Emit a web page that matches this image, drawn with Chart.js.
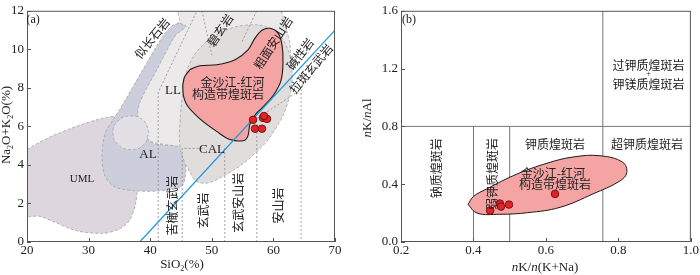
<!DOCTYPE html>
<html>
<head>
<meta charset="utf-8">
<script src="https://cdn.jsdelivr.net/npm/chart.js@4.4.1/dist/chart.umd.min.js"></script>
<style>
  html, body { margin: 0; padding: 0; background: #fff; }
  #wrap { position: relative; width: 700px; height: 275px; }
  canvas { position: absolute; top: 0; }
  #chartA { left: 0; }
  #chartB { left: 350px; }
</style>
</head>
<body>
<div id="wrap">
  <canvas id="chartA" width="350" height="275"></canvas>
  <canvas id="chartB" width="350" height="275"></canvas>
</div>
<script>
var serif = "'Liberation Serif', 'Times New Roman', serif";
var cjk = "'Noto Sans CJK SC', sans-serif";

// ---- (a) TAS diagram ----
var siTicks = [20, 30, 40, 50, 60, 70];
var alkTicks = [0, 2, 4, 6, 8, 10, 12];

var sampleSiO2 = [56.69, 58.31, 58.96, 57.01, 58.15, 58.47];
var sampleAlk = [6.34, 6.44, 6.39, 5.88, 5.88, 6.54];

var umlField = [[20, 4.81], [22.92, 5.32], [25.84, 5.73], [30.23, 6.24], [33.96, 6.52], [38.34, 6.60],
  [39.97, 6.10], [39.3, 5.5], [38.2, 4.96], [37.86, 3.68], [37.86, 2.56], [37.21, 1.53], [35.91, 0.87],
  [33.47, 0.51], [31.04, 0.46], [27.79, 0.61], [24.55, 1.02], [22.11, 1.33], [20, 1.43]];
var llField = [[44.19, 12.3], [61.07, 12.3], [62.69, 10.33], [63.02, 8.28], [60.26, 5.83], [54.58, 4.86],
  [45.32, 4.86], [39.97, 5.21], [36.5, 6.6], [37.3, 7.26], [40.0, 8.95], [43.05, 10.69], [44.8, 11.5]];
var llRound = [[39.8, 5.67], [38.95, 6.29], [36.88, 6.54], [34.81, 6.29], [33.96, 5.67], [34.81, 5.05],
  [36.88, 4.80], [38.95, 5.05]];
var alField = [[44.84, 11.35], [45.81, 11.20], [44.03, 10.69], [41.10, 8.95], [38.34, 7.26], [38.02, 6.49],
  [39.97, 5.21], [45.32, 4.86], [45.81, 3.94], [45.16, 2.91], [41.59, 2.66], [37.53, 2.66], [34.29, 2.86],
  [32.66, 3.43], [32.18, 4.45], [32.66, 5.62], [33.96, 6.34], [35.10, 6.90], [38.83, 8.95], [42.08, 10.69],
  [43.70, 11.25]];
var calField = [[45.65, 4.04], [48.08, 3.07], [52.47, 3.53], [57.34, 4.70], [60.26, 5.83], [62.37, 7.26],
  [63.02, 8.79], [61.88, 10.33], [59.45, 11.09], [55.39, 11.25], [51.33, 10.84], [48.08, 10.07],
  [46.14, 9.05], [45.32, 7.77], [44.84, 6.24], [44.84, 4.96]];
var lampFieldA = [[46.46, 8.95], [48.08, 9.15], [50.84, 9.20], [53.77, 9.46], [55.88, 9.97], [57.01, 10.58],
  [58.15, 10.99], [59.45, 11.09], [60.75, 10.84], [61.40, 10.22], [61.56, 9.30], [61.23, 8.38],
  [60.10, 7.67], [58.47, 7.06], [57.17, 6.65], [56.20, 6.13], [55.88, 5.52], [55.23, 5.27], [52.95, 5.32],
  [50.84, 5.73], [48.08, 6.39], [45.97, 7.11], [45.32, 7.77], [45.49, 8.50]];
var alkalineLine = [[38.3, 0], [70, 11.0]];
var dividers = [
  [[41.3, 0], [41.3, 7.77], [47.6, 12]],
  [[45.2, 0], [45.2, 4.86], [48.9, 4.86]],
  [[52.1, 0], [52.1, 5.0]],
  [[57.3, 0], [57.3, 6.4], [64.5, 7.92], [64.5, 0]],
  [[48.4, 12], [50.0, 9.7]],
  [[57.3, 12], [54.9, 10.4]]
];

// ---- (b) nK/nAl vs nK/n(K+Na) ----
var kNaTicks = [0.2, 0.4, 0.6, 0.8, 1.0];
var kAlTicks = [0, 0.4, 0.8, 1.2, 1.6];
var sampleKNa = [0.446, 0.473, 0.476, 0.498, 0.625];
var sampleKAl = [0.218, 0.266, 0.245, 0.259, 0.333];
var lampFieldB = [[0.385, 0.26], [0.400, 0.315], [0.437, 0.368], [0.520, 0.470], [0.603, 0.545],
  [0.674, 0.588], [0.749, 0.597], [0.812, 0.552], [0.823, 0.480], [0.804, 0.422], [0.730, 0.333],
  [0.639, 0.240], [0.550, 0.203], [0.473, 0.192], [0.410, 0.200]];
var boundsB = [
  [[0.4, 0], [0.4, 0.8]],
  [[0.5, 0], [0.5, 0.8]],
  [[0.757, 0], [0.757, 1.6]],
  [[0.2, 0.8], [1.0, 0.8]]
];

function toXY(pts) { return pts.map(function (p) { return { x: p[0], y: p[1] }; }); }

function field(pts, fill, order, extra) {
  return Object.assign({
    data: toXY(pts.concat([pts[0]])),
    backgroundColor: fill, fill: 'shape',
    borderColor: '#a3a3a3', borderWidth: 0.8, borderDash: [3, 2],
    pointRadius: 0, tension: 0.3, order: order
  }, extra || {});
}

function guide(pts, color, width, dash, order) {
  return {
    data: toXY(pts), borderColor: color, borderWidth: width, borderDash: dash,
    fill: false, pointRadius: 0, tension: 0, order: order
  };
}

function dots(xs, ys) {
  return {
    data: xs.map(function (v, i) { return { x: v, y: ys[i] }; }),
    showLine: false, pointRadius: 3.8, pointBackgroundColor: '#e32323',
    pointBorderColor: '#6a0e0e', pointBorderWidth: 0.9, order: 0
  };
}

function fontFor(s, size) {
  return (s.it ? 'italic ' : '') + (s.sub ? Math.round(size * 0.65) : size) + 'px ' + serif;
}

function drawRich(ctx, segs, size, cx, cy, rot) {
  ctx.save();
  ctx.translate(cx, cy);
  ctx.rotate(rot * Math.PI / 180);
  ctx.textBaseline = 'middle';
  ctx.textAlign = 'left';
  ctx.fillStyle = '#222';
  var widths = segs.map(function (s) { ctx.font = fontFor(s, size); return ctx.measureText(s.t).width; });
  var x = -widths.reduce(function (a, b) { return a + b; }, 0) / 2;
  segs.forEach(function (s, i) {
    ctx.font = fontFor(s, size);
    ctx.fillText(s.t, x, s.sub ? size * 0.3 : 0);
    x += widths[i];
  });
  ctx.restore();
}

function overlay(labels, titles) {
  return {
    id: 'overlay',
    afterDatasetsDraw: function (chart) {
      var ctx = chart.ctx, a = chart.chartArea, xs = chart.scales.x, ys = chart.scales.y;
      ctx.save();
      ctx.strokeStyle = '#555';
      ctx.lineWidth = 1;
      ctx.strokeRect(a.left + 0.5, a.top + 0.5, a.right - a.left - 1, a.bottom - a.top - 1);
      ctx.beginPath();
      xs.ticks.forEach(function (t) {
        var p = Math.round(xs.getPixelForValue(t.value)) + 0.5;
        ctx.moveTo(p, a.bottom); ctx.lineTo(p, a.bottom - 4);
      });
      ys.ticks.forEach(function (t) {
        var p = Math.round(ys.getPixelForValue(t.value)) + 0.5;
        ctx.moveTo(a.left, p); ctx.lineTo(a.left + 4, p);
      });
      ctx.stroke();
      labels.forEach(function (l) {
        ctx.save();
        ctx.translate(xs.getPixelForValue(l.x), ys.getPixelForValue(l.y));
        ctx.rotate((l.rot || 0) * Math.PI / 180);
        ctx.font = l.font || ('12px ' + cjk);
        ctx.fillStyle = '#222';
        ctx.textAlign = 'center';
        ctx.textBaseline = 'middle';
        ctx.fillText(l.t, 0, 0);
        ctx.restore();
      });
      ctx.restore();
    },
    afterDraw: function (chart) {
      titles.forEach(function (t) { drawRich(chart.ctx, t.segs, 13, t.x, t.y, t.rot || 0); });
    }
  };
}

function axes(xMin, xMax, xTicks, yMin, yMax, yTicks, yWidth, fmt) {
  var tickFont = { family: serif, size: 13 };
  return {
    x: {
      type: 'linear', min: xMin, max: xMax,
      grid: { display: false, drawTicks: false }, border: { display: false },
      afterBuildTicks: function (s) { s.ticks = xTicks.map(function (v) { return { value: v }; }); },
      afterFit: function (s) { s.height = 33; },
      ticks: { font: tickFont, color: '#222', padding: 1, maxRotation: 0, autoSkip: false, callback: fmt }
    },
    y: {
      min: yMin, max: yMax,
      grid: { display: false, drawTicks: false }, border: { display: false },
      afterBuildTicks: function (s) { s.ticks = yTicks.map(function (v) { return { value: v }; }); },
      afterFit: function (s) { s.width = yWidth; },
      ticks: { font: tickFont, color: '#222', padding: 3, autoSkip: false, callback: fmt }
    }
  };
}

var labelsA = [
  { t: '(a)', x: 21.0, y: 11.55, font: '12px ' + serif },
  { t: '似长石岩', x: 40.29, y: 10.58, rot: -51 },
  { t: '碧玄岩', x: 51.33, y: 10.99, rot: -56 },
  { t: '粗面安山岩', x: 59.94, y: 10.33, rot: -57 },
  { t: '碱性岩', x: 64.32, y: 9.76, rot: -53 },
  { t: '拉斑玄武岩', x: 66.10, y: 9.0, rot: -50 },
  { t: '金沙江-红河', x: 53.36, y: 8.26 },
  { t: '构造带煌斑岩', x: 52.63, y: 7.67 },
  { t: 'LL', x: 43.70, y: 7.87, font: '13px ' + serif },
  { t: 'AL', x: 39.64, y: 4.55, font: '13px ' + serif },
  { t: 'CAL', x: 50.03, y: 4.81, font: '13px ' + serif },
  { t: 'UML', x: 28.93, y: 3.27, font: '11px ' + serif },
  { t: '苦橄玄武岩', x: 43.54, y: 1.89, rot: -90 },
  { t: '玄武岩', x: 48.57, y: 1.64, rot: -90 },
  { t: '玄武安山岩', x: 54.25, y: 2.04, rot: -90 },
  { t: '安山岩', x: 60.75, y: 1.89, rot: -90 }
];
var titlesA = [
  { segs: [{ t: 'SiO' }, { t: '2', sub: true }, { t: '(%)' }], x: 182, y: 265 },
  { segs: [{ t: 'Na' }, { t: '2', sub: true }, { t: 'O+K' }, { t: '2', sub: true }, { t: 'O(%)' }], x: 7, y: 125, rot: -90 }
];

new Chart(document.getElementById('chartA').getContext('2d'), {
  type: 'line',
  data: {
    datasets: [
      field(umlField, '#ddd6de', 10, { tension: 0.4 }),
      field(llField, '#ebe9ea', 9, { tension: 0 }),
      field(alField, '#cccedb', 8),
      field(llRound, '#e2dfe5', 7, { tension: 0.5 }),
      field(calField, '#e1dddc', 6, { tension: 0.4 })
    ].concat(dividers.map(function (d) { return guide(d, '#8a8a8a', 0.8, [2, 2], 5); })).concat([
      field(lampFieldA, '#f5a4a4', 4, { borderColor: '#1a1a1a', borderWidth: 1.1, borderDash: [], tension: 0.35 }),
      guide(alkalineLine, '#1b9ad8', 1.3, [], 3),
      dots(sampleSiO2, sampleAlk)
    ])
  },
  options: {
    responsive: false, animation: false, devicePixelRatio: 1,
    layout: { padding: { left: 0, right: 15, top: 7, bottom: 0 }, autoPadding: false },
    plugins: { legend: { display: false }, tooltip: { enabled: false } },
    scales: axes(20, 70, siTicks, 0, 12, alkTicks, 27, function (v) { return v; })
  },
  plugins: [overlay(labelsA, titlesA)]
});

var labelsB = [
  { t: '(b)', x: 0.222, y: 1.538, font: '12px ' + serif },
  { t: '过钾质煌斑岩', x: 0.883, y: 1.225 },
  { t: '+', x: 0.883, y: 1.162, font: '9px ' + serif },
  { t: '钾镁质煌斑岩', x: 0.883, y: 1.089 },
  { t: '超钾质煌斑岩', x: 0.879, y: 0.674 },
  { t: '钾质煌斑岩', x: 0.625, y: 0.674 },
  { t: '钠质煌斑岩', x: 0.299, y: 0.511, rot: -90 },
  { t: '弱钾质煌斑岩', x: 0.451, y: 0.470, rot: -90 },
  { t: '金沙江-红河', x: 0.619, y: 0.477 },
  { t: '构造带煌斑岩', x: 0.625, y: 0.395 }
];
var titlesB = [
  { segs: [{ t: 'n', it: true }, { t: 'K/' }, { t: 'n', it: true }, { t: '(K+Na)' }], x: 195, y: 268 },
  { segs: [{ t: 'n', it: true }, { t: 'K/' }, { t: 'n', it: true }, { t: 'Al' }], x: 18, y: 118, rot: -90 }
];

new Chart(document.getElementById('chartB').getContext('2d'), {
  type: 'line',
  data: {
    datasets: boundsB.map(function (d) { return guide(d, '#777', 1, [], 5); }).concat([
      field(lampFieldB, '#f5a4a4', 4, { borderColor: '#1a1a1a', borderWidth: 1, borderDash: [], tension: 0.4 }),
      dots(sampleKNa, sampleKAl)
    ])
  },
  options: {
    responsive: false, animation: false, devicePixelRatio: 1,
    layout: { padding: { left: 0, right: 9, top: 7, bottom: 0 }, autoPadding: false },
    plugins: { legend: { display: false }, tooltip: { enabled: false } },
    scales: axes(0.2, 1.0, kNaTicks, 0, 1.6, kAlTicks, 51, function (v) { return v.toFixed(1); })
  },
  plugins: [overlay(labelsB, titlesB)]
});
</script>
</body>
</html>
